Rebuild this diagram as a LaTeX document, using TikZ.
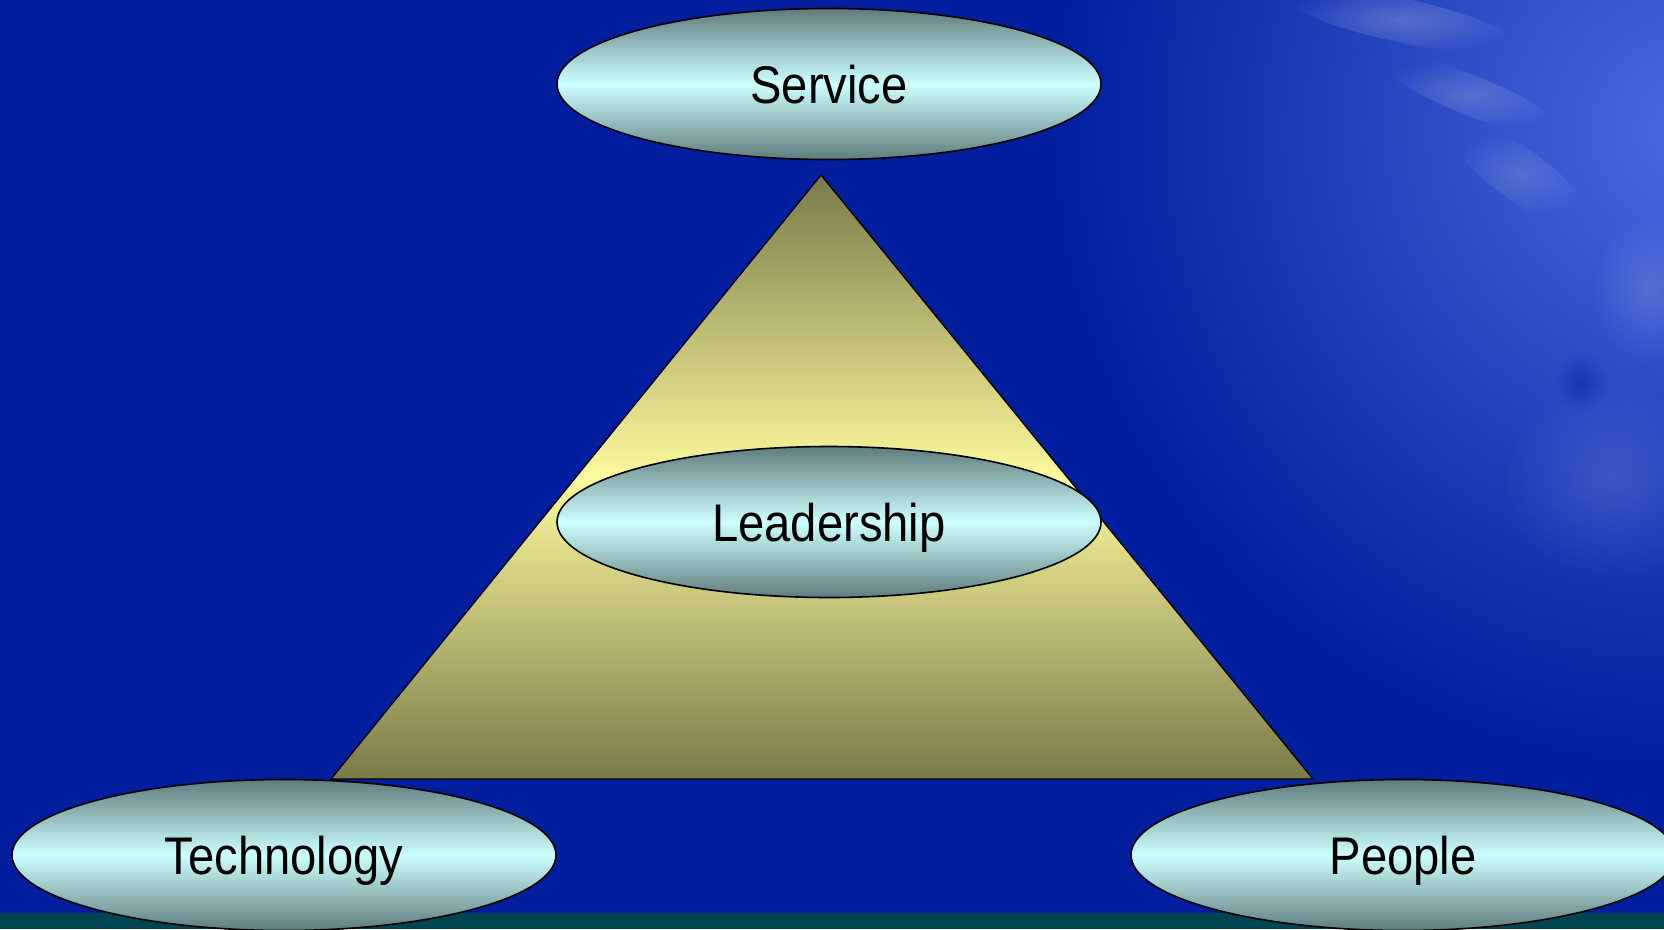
\documentclass[tikz,border=0pt]{standalone}
\usepackage{fontspec}
\newfontfamily\labelfont{Liberation Sans}[FakeStretch=0.89]
\usetikzlibrary{shapes.geometric,fadings}

\definecolor{slideblue}{RGB}{0,30,158}
\definecolor{skyblue}{RGB}{74,106,224}
\definecolor{bandteal}{RGB}{0,70,82}
\definecolor{capdark}{RGB}{95,124,124}
\definecolor{caplight}{RGB}{204,255,255}
\definecolor{pyrdark}{RGB}{122,122,74}
\definecolor{pyrlight}{RGB}{252,250,156}

% soft radial fade used for the cloud wisps
\tikzfading[name=softspot, inner color=transparent!0, outer color=transparent!100]

\begin{document}
\begin{tikzpicture}[x=1pt,y=-1pt,
  capsule/.style={ellipse, draw=black, line width=1.6pt,
    minimum width=544pt, minimum height=151pt, inner sep=0pt,
    top color=capdark, bottom color=capdark, middle color=caplight,
    font=\labelfont\fontsize{53}{60}\selectfont,
    text height=38pt, text depth=0pt},
  cloud/.style={fill=white, opacity=#1, path fading=softspot},
  cloud/.default=0.2,
  pyramid/.style={draw=black, line width=1.3pt,
    top color=pyrdark, bottom color=pyrdark, middle color=pyrlight}]

\useasboundingbox (0,0) rectangle (1664,929);

% slide background
\fill[slideblue] (0,0) rectangle (1664,929);
\begin{scope}
  \clip (0,0) rectangle (1664,913);
  \shade[inner color=skyblue, outer color=slideblue] (1690,130) circle (640);
  % faint cloud wisps in the upper right sky
  \fill[cloud=0.22, rotate around={-12:(1400,20)}] (1400,20) ellipse (120 and 22);
  \fill[cloud=0.18, rotate around={-22:(1470,95)}] (1470,95) ellipse (100 and 20);
  \fill[cloud=0.15, rotate around={-35:(1520,175)}] (1520,175) ellipse (80 and 26);
  \fill[cloud=0.14] (1650,290) ellipse (60 and 75);
  \fill[cloud=0.12] (1610,480) ellipse (110 and 100);
  \fill[slideblue, opacity=0.45, path fading=softspot]
    (1581,382) ellipse (26 and 30);
\end{scope}
\fill[bandteal] (0,913) rectangle (1664,929);

% pyramid
\coordinate (apex) at (821,175);
\coordinate (baseL) at (331,779);
\coordinate (baseR) at (1313,779);
\path[pyramid] (apex) -- (baseL) -- (baseR) -- cycle;

% labelled ellipses
\node[capsule] (service) at (829,84) {Service};
\node[capsule] (leadership) at (829,522) {Leadership};
\node[capsule] (technology) at (284,855) {Technology};
\node[capsule] (people) at (1403,855) {People};

\end{tikzpicture}
\end{document}
